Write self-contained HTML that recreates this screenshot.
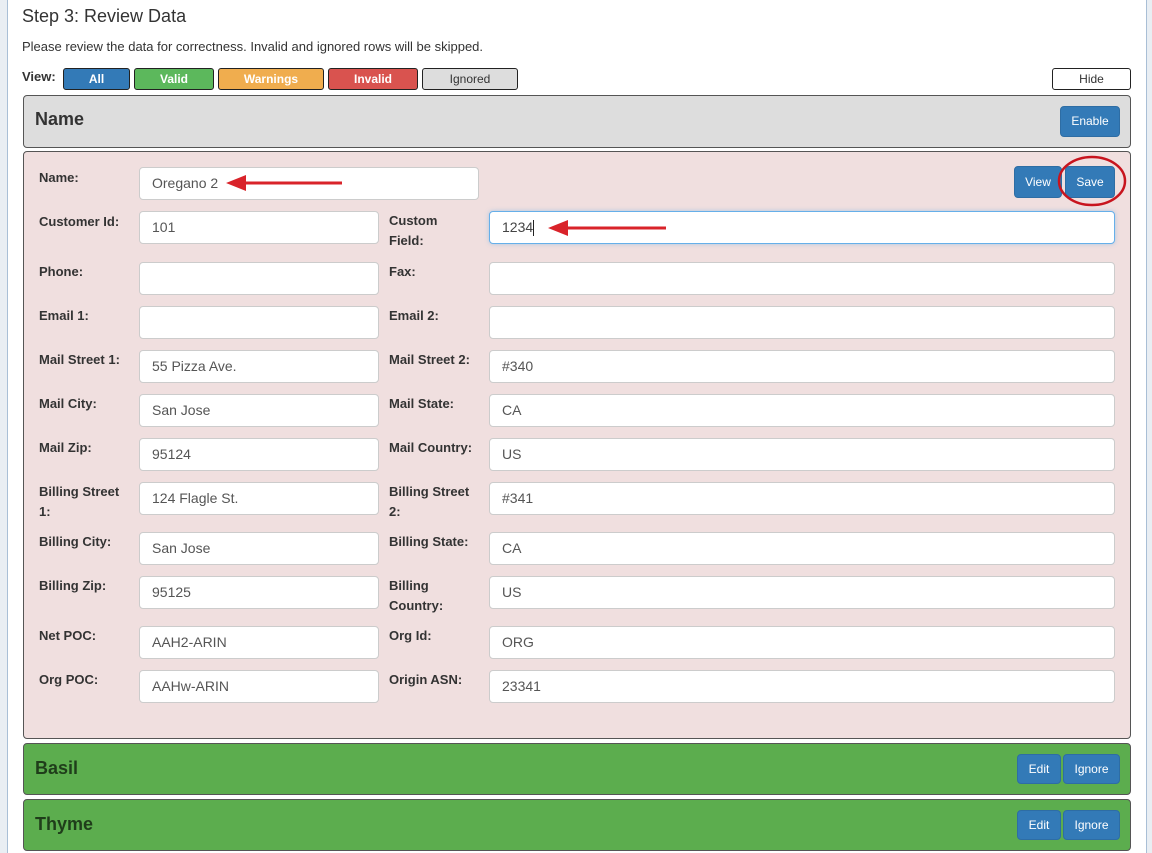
<!DOCTYPE html>
<html><head><meta charset="utf-8"><style>
*{box-sizing:border-box;margin:0;padding:0}
body{width:1152px;height:853px;overflow:hidden;background:#fff;font-family:"Liberation Sans",Arial,sans-serif;position:relative;color:#333}
.a{position:absolute}
.vb{position:absolute;top:68px;height:22px;border:1px solid #222;border-radius:3px;color:#fff;font-weight:bold;font-size:12px;text-align:center;line-height:20px}
.btn{position:absolute;background:#337ab7;border:1px solid #2e6da4;border-radius:4px;color:#fff;font-size:12px;text-align:center}
.lbl{position:absolute;font-weight:bold;font-size:13px;line-height:20px;color:#333}
.in{position:absolute;height:33px;background:#fff;border:1px solid #ccc;border-radius:4px;font-size:14px;color:#555;padding-left:12px;line-height:31px}
.panel{position:absolute;left:23px;width:1108px;border:1px solid #555;border-radius:4px}
.ph{position:absolute;left:11px;font-size:18px;font-weight:bold}
</style></head><body>
<div class="a" style="left:0;top:0;width:8px;height:853px;background:#e9eef3;border-right:1px solid #a9bfd6"></div>
<div class="a" style="left:1146px;top:0;width:6px;height:853px;background:#e9eef3;border-left:1px solid #a9bfd6"></div>
<div class="a" style="left:22px;top:6px;font-size:18px;color:#333">Step 3: Review Data</div>
<div class="a" style="left:22px;top:39px;font-size:13px;color:#333">Please review the data for correctness. Invalid and ignored rows will be skipped.</div>
<div class="a" style="left:22px;top:69px;font-size:13px;font-weight:bold">View:</div>
<div class="vb" style="left:63px;width:67px;background:#337ab7">All</div>
<div class="vb" style="left:134px;width:80px;background:#5cb85c">Valid</div>
<div class="vb" style="left:218px;width:106px;background:#f0ad4e">Warnings</div>
<div class="vb" style="left:328px;width:90px;background:#d9534f">Invalid</div>
<div class="vb" style="left:422px;width:96px;background:#ddd;color:#333;font-weight:normal">Ignored</div>
<div class="vb" style="left:1052px;width:79px;background:#fff;color:#333;font-weight:normal">Hide</div>

<div class="panel" style="top:95px;height:53px;background:#dddddd"><div class="ph" style="top:13px">Name</div></div>
<div class="btn" style="left:1060px;top:106px;width:60px;height:31px;line-height:29px">Enable</div>

<div class="panel" style="top:151px;height:588px;background:#f0dfdf"></div>
<div class="btn" style="left:1014px;top:166px;width:48px;height:32px;line-height:30px">View</div>
<div class="btn" style="left:1065px;top:166px;width:50px;height:32px;line-height:30px">Save</div>

<div class="lbl" style="left:39px;top:168px">Name:</div>
<div class="in" style="left:139px;top:167px;width:340px">Oregano 2</div>

<div class="lbl" style="left:39px;top:212px">Customer Id:</div>
<div class="in" style="left:139px;top:211px;width:240px">101</div>
<div class="lbl" style="left:389px;top:211px">Custom<br>Field:</div>
<div class="in" style="left:489px;top:211px;width:626px;border-color:#66afe9;box-shadow:0 0 4px rgba(102,175,233,.5);color:#444">1234<span style="border-left:1px solid #222;height:16px;display:inline-block;vertical-align:middle"></span></div>

<div class="lbl" style="left:39px;top:262px">Phone:</div>
<div class="in" style="left:139px;top:262px;width:240px"></div>
<div class="lbl" style="left:389px;top:262px">Fax:</div>
<div class="in" style="left:489px;top:262px;width:626px"></div>

<div class="lbl" style="left:39px;top:306px">Email 1:</div>
<div class="in" style="left:139px;top:306px;width:240px"></div>
<div class="lbl" style="left:389px;top:306px">Email 2:</div>
<div class="in" style="left:489px;top:306px;width:626px"></div>

<div class="lbl" style="left:39px;top:350px">Mail Street 1:</div>
<div class="in" style="left:139px;top:350px;width:240px">55 Pizza Ave.</div>
<div class="lbl" style="left:389px;top:350px">Mail Street 2:</div>
<div class="in" style="left:489px;top:350px;width:626px">#340</div>

<div class="lbl" style="left:39px;top:394px">Mail City:</div>
<div class="in" style="left:139px;top:394px;width:240px">San Jose</div>
<div class="lbl" style="left:389px;top:394px">Mail State:</div>
<div class="in" style="left:489px;top:394px;width:626px">CA</div>

<div class="lbl" style="left:39px;top:438px">Mail Zip:</div>
<div class="in" style="left:139px;top:438px;width:240px">95124</div>
<div class="lbl" style="left:389px;top:438px">Mail Country:</div>
<div class="in" style="left:489px;top:438px;width:626px">US</div>

<div class="lbl" style="left:39px;top:482px">Billing Street<br>1:</div>
<div class="in" style="left:139px;top:482px;width:240px">124 Flagle St.</div>
<div class="lbl" style="left:389px;top:482px">Billing Street<br>2:</div>
<div class="in" style="left:489px;top:482px;width:626px">#341</div>

<div class="lbl" style="left:39px;top:532px">Billing City:</div>
<div class="in" style="left:139px;top:532px;width:240px">San Jose</div>
<div class="lbl" style="left:389px;top:532px">Billing State:</div>
<div class="in" style="left:489px;top:532px;width:626px">CA</div>

<div class="lbl" style="left:39px;top:576px">Billing Zip:</div>
<div class="in" style="left:139px;top:576px;width:240px">95125</div>
<div class="lbl" style="left:389px;top:576px">Billing<br>Country:</div>
<div class="in" style="left:489px;top:576px;width:626px">US</div>

<div class="lbl" style="left:39px;top:626px">Net POC:</div>
<div class="in" style="left:139px;top:626px;width:240px">AAH2-ARIN</div>
<div class="lbl" style="left:389px;top:626px">Org Id:</div>
<div class="in" style="left:489px;top:626px;width:626px">ORG</div>

<div class="lbl" style="left:39px;top:670px">Org POC:</div>
<div class="in" style="left:139px;top:670px;width:240px">AAHw-ARIN</div>
<div class="lbl" style="left:389px;top:670px">Origin ASN:</div>
<div class="in" style="left:489px;top:670px;width:626px">23341</div>

<div class="panel" style="top:743px;height:52px;background:#5cad4e"><div class="ph" style="top:14px;color:#1f3d1a">Basil</div></div>
<div class="btn" style="left:1017px;top:754px;width:44px;height:30px;line-height:28px">Edit</div>
<div class="btn" style="left:1063px;top:754px;width:57px;height:30px;line-height:28px">Ignore</div>
<div class="panel" style="top:799px;height:52px;background:#5cad4e"><div class="ph" style="top:14px;color:#1f3d1a">Thyme</div></div>
<div class="btn" style="left:1017px;top:810px;width:44px;height:30px;line-height:28px">Edit</div>
<div class="btn" style="left:1063px;top:810px;width:57px;height:30px;line-height:28px">Ignore</div>

<svg class="a" style="left:0;top:0" width="1152" height="853">
<line x1="244" y1="183" x2="342" y2="183" stroke="#d9232a" stroke-width="3"/>
<polygon points="226,183 246,175 246,191" fill="#d9232a"/>
<line x1="566" y1="228" x2="666" y2="228" stroke="#d9232a" stroke-width="3"/>
<polygon points="548,228 568,220 568,236" fill="#d9232a"/>
<ellipse cx="1092" cy="181" rx="33" ry="24" fill="none" stroke="#c8141e" stroke-width="2.5"/>
</svg>
</body></html>
